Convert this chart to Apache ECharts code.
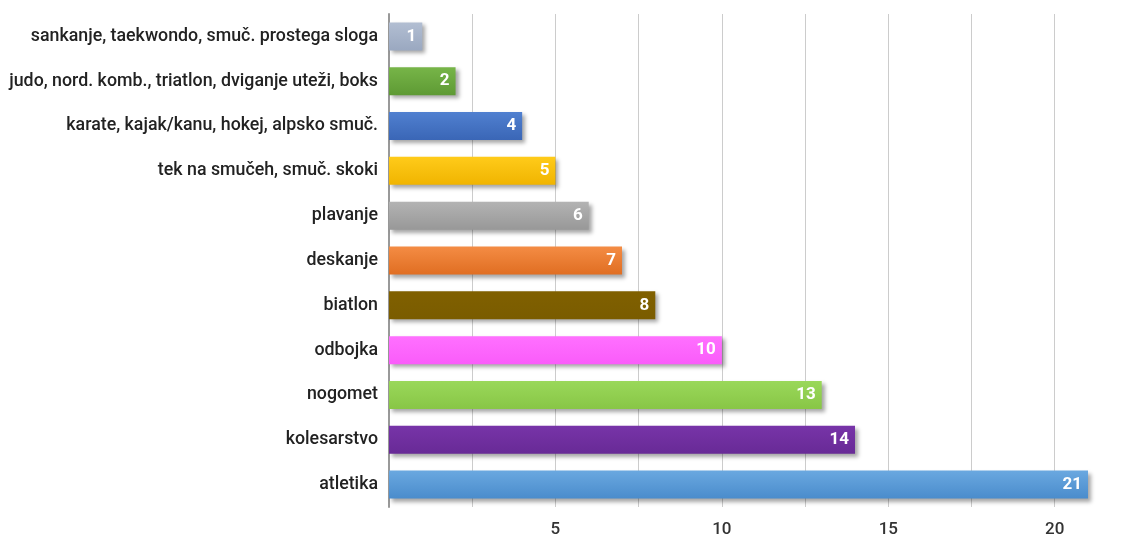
<!DOCTYPE html>
<html>
<head>
<meta charset="utf-8">
<script src="https://cdn.jsdelivr.net/npm/echarts@6/dist/echarts.min.js"></script>
<style>html,body{margin:0;padding:0;background:#fff}#c{width:1126px;height:538px}</style>
</head>
<body>
<div id="c"></div>
<script>
var categories = ['sankanje, taekwondo, smuč. prostega sloga','judo, nord. komb., triatlon, dviganje uteži, boks','karate, kajak/kanu, hokej, alpsko smuč.','tek na smučeh, smuč. skoki','plavanje','deskanje','biatlon','odbojka','nogomet','kolesarstvo','atletika'];
var values = [1, 2, 4, 5, 6, 7, 8, 10, 13, 14, 21];
var colorsTop = ['#b2bed2','#77b548','#5080d0','#ffcb1a','#b3b3b3','#f48c44','#806000','#ff70ff','#9ad85a','#7734a8','#6aa8e0'];
var colorsBottom = ['#9aa8c0','#5e9a34','#3a66b6','#f0b400','#989898','#e06e22','#7a5c00','#fa5cfa','#88c646','#682a96','#4a8ccc'];
var tickLabels = [5, 10, 15, 20];

var data = values.map(function(v, i){
  return {value: v, itemStyle: {color: new echarts.graphic.LinearGradient(0,0,0,1,[{offset:0,color:colorsTop[i]},{offset:1,color:colorsBottom[i]}])}};
});
var chart = echarts.init(document.getElementById('c'));
chart.setOption({
  animation:false,
  grid:{left:389, right:28, top:14, bottom:29, containLabel:false},
  xAxis:{type:'value', min:0, max:21.3, interval:2.5,
    axisLine:{show:false}, axisTick:{show:false},
    splitLine:{show:true, showMaxLine:false, showMinLine:false, lineStyle:{color:'#cccccc', width:1}},
    axisLabel:{color:'#333', fontFamily:'Roboto', fontSize:17, fontWeight:500, margin:14,
      formatter:function(v){ return tickLabels.indexOf(v) >= 0 ? String(v) : ''; }}
  },
  yAxis:{type:'category', data:categories, inverse:true,
    axisLine:{show:true, lineStyle:{color:'#999', width:2}}, axisTick:{show:false},
    axisLabel:{color:'#222', fontFamily:'Roboto', fontSize:17.8, fontWeight:500, margin:11}
  },
  series:[{type:'bar', data:data, barWidth:28,
    itemStyle:{shadowColor:'rgba(0,0,0,0.35)', shadowBlur:4, shadowOffsetX:3, shadowOffsetY:3},
    label:{show:true, position:'insideRight', color:'#fff', fontFamily:'Roboto', fontSize:17, fontWeight:'bold', distance:6}
  }]
});
</script>
</body>
</html>
